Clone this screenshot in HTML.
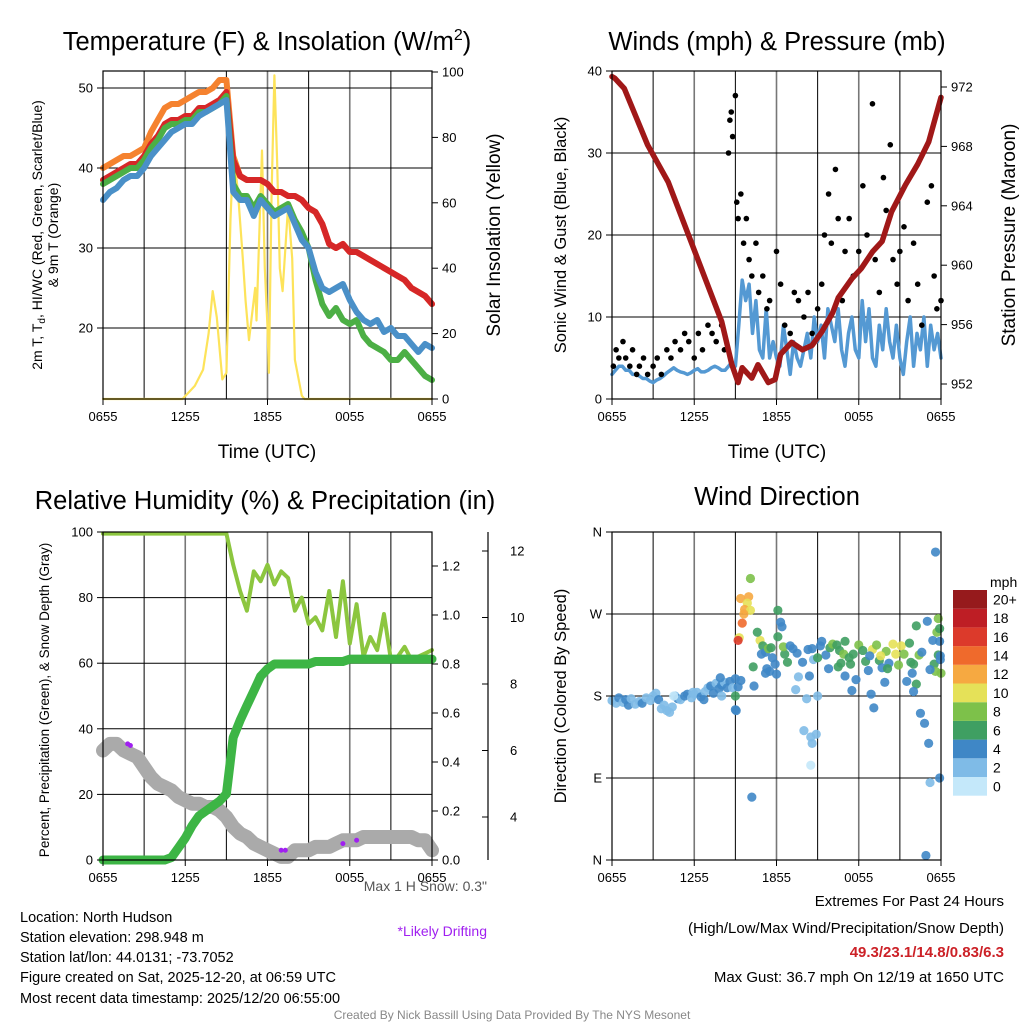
<!DOCTYPE html>
<html><head><meta charset="utf-8"><style>
html,body{margin:0;padding:0;background:#fff}
svg{display:block;font-family:"Liberation Sans",sans-serif}
</style></head><body>
<svg id="chart" width="1024" height="1024" viewBox="0 0 1024 1024" xmlns="http://www.w3.org/2000/svg">
<rect width="1024" height="1024" fill="#fff"/>
<g id="p1"></g>
<g id="p2"></g>
<g id="p3"></g>
<g id="p4"></g>
<g font-size="25.5" text-anchor="middle">
<text x="267" y="50">Temperature (F) &amp; Insolation (W/m<tspan font-size="16" dy="-10">2</tspan><tspan dy="10">)</tspan></text>
<text x="777" y="50">Winds (mph) &amp; Pressure (mb)</text>
<text x="265" y="509">Relative Humidity (%) &amp; Precipitation (in)</text>
<text x="777" y="505">Wind Direction</text>
</g>
<g font-size="19" text-anchor="middle">
<text x="267" y="458">Time (UTC)</text>
<text x="777" y="458">Time (UTC)</text>
<text transform="translate(500,235) rotate(-90)">Solar Insolation (Yellow)</text>
<text transform="translate(1015,235) rotate(-90)">Station Pressure (Maroon)</text>
</g>
<text font-size="14" text-anchor="middle" transform="translate(42,235) rotate(-90)">2m T, T<tspan font-size="10" dy="3">d</tspan><tspan dy="-3">, HI/WC (Red, Green, Scarlet/Blue)</tspan></text>
<text font-size="14" text-anchor="middle" transform="translate(58,235) rotate(-90)">&amp; 9m T (Orange)</text>
<text font-size="16.5" text-anchor="middle" transform="translate(566,235) rotate(-90)">Sonic Wind &amp; Gust (Blue, Black)</text>
<text font-size="13.5" text-anchor="middle" transform="translate(49,700) rotate(-90)">Percent, Precipitation (Green), &amp; Snow Depth (Gray)</text>
<text font-size="16.5" text-anchor="middle" transform="translate(566,696) rotate(-90)">Direction (Colored By Speed)</text>
<text font-size="14" fill="#555" text-anchor="end" x="487" y="891">Max 1 H Snow: 0.3"</text>
<text font-size="14" fill="#a020f0" text-anchor="end" x="487" y="936">*Likely Drifting</text>
<g font-size="14.5">
<text x="20" y="922">Location: North Hudson</text>
<text x="20" y="942">Station elevation: 298.948 m</text>
<text x="20" y="962">Station lat/lon: 44.0131; -73.7052</text>
<text x="20" y="982">Figure created on Sat, 2025-12-20, at 06:59 UTC</text>
<text x="20" y="1003">Most recent data timestamp: 2025/12/20 06:55:00</text>
</g>
<g font-size="15" text-anchor="end">
<text x="1004" y="906">Extremes For Past 24 Hours</text>
<text x="1004" y="933">(High/Low/Max Wind/Precipitation/Snow Depth)</text>
<text x="1004" y="957" fill="#cc2127" font-weight="bold">49.3/23.1/14.8/0.83/6.3</text>
<text x="1004" y="982">Max Gust: 36.7 mph On 12/19 at 1650 UTC</text>
</g>
<text x="512" y="1019" font-size="12" fill="#888" text-anchor="middle">Created By Nick Bassill Using Data Provided By The NYS Mesonet</text>
</svg>
<script>
// ---------- data ----------
const hours = [0,0.5,1,1.5,2,2.5,3,3.5,4,4.5,5,5.5,6,6.5,7,7.5,8,8.5,9,9.5,10,10.5,11,11.5,12,12.5,13,13.5,14,14.5,15,15.5,16,16.5,17,17.5,18,18.5,19,19.5,20,20.5,21,21.5,22,22.5,23,23.5,24];
const timeTicks = ["0655","1255","1855","0055","0655"];
const tempRed = [38.5,39,39.5,40,40.5,40.5,41.5,43,44,45.5,46,46,46.5,46.5,47.5,47.5,48,48.5,49.5,41,39,38.5,38.5,38.5,38,37,37,36.5,36.5,36,35,34.5,33,30.5,30,30.5,29.5,29.5,29,28.5,28,27.5,27,26.5,26,25,24.5,24,23];
const tempOrange = [40,40.5,41,41.5,41.5,42,42.5,44.5,46,47.5,48,48,48.5,49,49.5,49.5,50,51,51,41.5,39,38.5,38.5,38.5,38,37,37,36.5,36.5,36,35,34.5,33,30.5,30,30.5,29.5,29.5,29,28.5,28,27.5,27,26.5,26,25,24.5,24,23];
const tempGreen = [38,38.5,39,39.5,40,40,41,42.5,43.5,45,45.5,45.5,46,46,47,47,47.5,48,49,38,36.5,36.5,35,36.5,35.5,34.5,35,35.5,33.5,32,30,26,23,21.5,22.5,21,20.5,21,19,18,17.5,17,16,16,17,16,15,14,13.5];
const tempBlue = [36,37,37.5,38.5,39,39,40,41.5,42.5,43.5,44.5,45,45.5,45.5,46.5,47,47.5,48,48.5,37,36,36,34,36,35,34,34.5,35,33,31,30,27,25,24.5,25,25.5,23.5,22,21,20.5,21,19.5,20,19,19,18,17,18,17.5];
const solarHours = [0,5.8,6.7,7.3,7.7,8.0,8.3,8.7,9.0,9.3,9.5,9.6,9.85,10.2,10.4,10.65,11.1,11.2,11.6,11.8,12.0,12.1,12.3,12.5,12.7,12.9,13.1,13.5,13.8,14.0,14.5,14.7,24];
const solar = [0,0,4,9,20,33,25,6,8,55,75,73,63,43,30,18,34,24,76,40,22,8,63,99,73,40,33,59,43,12,1,0,0];
// wind sampled every 15 minutes from 0655
const wind = [3,3.5,4,4,3.5,3.5,3,3,2.8,2.5,2.5,2.2,2,2.3,2.5,2.8,3.2,3.5,3.8,3.5,3.3,3.2,3,3.2,3.5,3.7,3.3,3.3,3.5,3.8,4,3.8,3.5,3.5,4,4.5,4,
9,14.5,12,14,8,12,6,5,11,5,7,5,4,9,6,3,7,5,4,6,8,5,10,7,9,5,11,9,7,11,6,4,8,10,6,5,12,7,11,5,4,9,6,11,7,5,9,5,3,7,10,4,8,6,10,4,9,6,8,5];
const gustHours = [0.1,0.3,0.5,0.8,1,1.3,1.5,1.8,2,2.3,2.6,3,3.3,3.6,4,4.3,4.6,5,5.3,5.6,6,6.3,6.6,7,7.3,7.6,8,8.2,8.5,8.6,8.7,8.8,9,9.1,9.2,9.4,9.6,9.8,10,10.2,10.5,10.7,11,11.3,11.5,12,12.3,12.6,13,13.3,13.6,14,14.3,14.6,15,15.3,15.5,15.8,16,16.3,16.5,16.8,17,17.3,17.6,18,18.3,18.6,19,19.2,19.5,19.8,20,20.3,20.5,20.8,21,21.3,21.6,22,22.3,22.6,23,23.3,23.5,23.7,24];
const gust = [4,6,5,7,5,4,6,3,4,5,3,4,5,3,6,5,7,6,8,7,5,8,6,9,8,7,9,6,30,34,35,32,37,24,22,25,19,22,17,15,19,13,15,11,12,18,14,9,8,13,12,10,13,8,11,14,20,25,19,28,22,12,18,22,15,18,26,20,36,17,13,27,23,31,17,14,18,21,12,19,14,9,24,26,15,11,12];
const pressureHours = [0,0.2,0.9,2.6,4.1,5.3,6.8,8.0,8.75,9.2,9.5,10.2,10.65,11.4,11.9,12.3,13.1,13.9,14.6,15.3,16.1,16.5,17.5,18.2,19.0,19.7,20.4,21.4,22.3,23.1,24];
const pressure = [972.7,972.6,971.9,968.1,965.6,962.7,959.1,956.2,953.3,952.1,953.1,952.4,953.3,952.1,952.3,954,954.8,954.3,954.6,955.5,956.8,957.8,959.1,959.8,960.9,961.6,963.6,965.4,966.8,968.3,971.3];
const rh = [99.5,99.5,99.5,99.5,99.5,99.5,99.5,99.5,99.5,99.5,99.5,99.5,99.5,99.5,99.5,99.5,99.5,99.5,99.5,90,82,76,88,85,90,84,88,86,76,80,72,74,70,82,68,85,66,78,62,68,64,75,61,62,65,61,62,63,64];
const precip = [0,0,0,0,0,0,0,0,0,0,0.01,0.05,0.09,0.14,0.18,0.2,0.22,0.24,0.27,0.5,0.57,0.63,0.69,0.75,0.78,0.8,0.8,0.8,0.8,0.8,0.8,0.81,0.81,0.81,0.81,0.81,0.82,0.82,0.82,0.82,0.82,0.82,0.82,0.82,0.82,0.82,0.82,0.82,0.82];
const snow = [6.0,6.2,6.2,6.0,5.9,5.8,5.5,5.2,5.0,4.9,4.8,4.6,4.5,4.4,4.4,4.3,4.3,4.2,4.0,3.7,3.5,3.4,3.2,3.1,3.0,2.9,2.8,2.8,3.0,3.0,3.0,3.1,3.1,3.1,3.2,3.3,3.3,3.3,3.4,3.4,3.4,3.4,3.4,3.4,3.4,3.4,3.3,3.3,3.0];
const driftHours = [1.8,2.0,13,13.3,17.5,18.5];
const driftSnow = [6.2,6.15,3.0,3.0,3.2,3.3];
const dirHours = [0,0.3,0.5,0.8,1,1.2,1.4,1.7,2,2.2,2.5,2.8,3,3.2,3.4,3.6,3.8,4,4.2,4.4,4.6,4.8,5,5.3,5.5,5.8,6,6.2,6.5,6.8,7,7.2,7.4,7.6,7.8,8,8.2,8.4,8.6,8.8,9,9.2,9.4,9,8,9,6.7,4.5,5.9,7.9,
9.38,9.97,9.87,9.67,10.1,9.62,9.5,9.28,9.2,10.1,10.2,9.06,10.36,10.3,
10.8,11,11.2,11.4,11.6,11.3,11.5,11.9,12.1,12.1,12.3,12.4,12.6,12.5,12.8,13,13.2,13.4,13.6,13.5,13.9,14,14.2,14.4,14.5,14.6,14.5,14.6,14.7,14.9,15.2,15.3,15.6,15.8,15,15.9,16.1,16.4,16.6,16.9,17,17,17.3,17.5,17.4,17.8,18,18.3,18.5,18.7,18.9,19,19.1,19.3,19.5,19.7,19.9,20,20.2,20.5,20.7,20.9,21.1,21.3,21.5,21.7,21.9,22,22.2,22.4,22.6,22.2,22.5,22.8,23.1,23.2,23,23.5,23.6,23.8,24,23.4,23.7,23.8,23.9,23.95,23.9,23.95,22.9,23.9,23.6,22,23.2,21.8,19.6,20.1,16.5,16.7,14.3,15,17.6,18.8,12,11.7,10.9,10.6,11.2];
const dirDeg = [175,172,178,173,176,170,177,171,174,172,178,175,180,183,176,166,170,164,162,168,180,177,176,180,182,178,182,184,179,185,189,191,183,194,188,192,195,189,196,189,199,190,197,180,180,165,176,180,184,200,
287,289,282,275,274,270,260,244,241,309,69,164,191,212,
241,235,228,232,233,210,207,215,245,274,261,256,226,234,217,235,232,187,201,227,217,142,177,202,135,128,104,232,220,138,235,240,225,210,180,233,237,236,230,226,202,240,222,186,215,198,236,230,218,208,182,231,167,236,219,211,195,229,216,237,226,214,235,226,196,238,205,215,193,225,228,257,161,150,128,85,262,215,207,225,205,241,250,265,254,224,240,220,5,90,338,185,209,217,224,210,212,216,231,222,226,224,204,222,226,250,205];
const dirSpeed = [2,2,3,2,4,3,2,2,2,3,2,2,2,2,4,2,2,2,2,2,2,3,2,4,4,2,2,2,4,2,2,4,4,2,4,4,2,4,4,2,4,4,4,6,2,3,4,0,2,4,
12,12,10,12,10,12,14,10,16,7,4,3,4,6,
10,6,4,7,6,4,4,4,6,6,4,4,6,7,6,4,4,2,2,4,4,2,2,4,2,2,0,4,2,2,4,4,4,4,2,6,7,6,6,7,4,6,6,4,6,3,8,6,6,4,4,10,4,8,6,4,4,8,4,10,10,8,10,8,4,6,4,6,6,8,4,6,4,4,4,2,4,6,8,6,8,4,8,8,6,4,4,4,4,4,4,4,4,6,10,6,6,6,4,6,6,4,4,4,4,6,4];
const speedLabels = ["0","2","4","6","8","10","12","14","16","18","20+"];
const speedColors = ["#c4e8fa","#7fbbe7","#3f87c6","#3f9f62","#7dc14a","#e5e158","#f6a941","#ef6a2c","#dc3a2b","#be1e25","#961a1c"];
const dirLabels = ["N","E","S","W","N"];
const NS = "http://www.w3.org/2000/svg";
function mk(parent, tag, attrs){ const e=document.createElementNS(NS,tag); for(const k in attrs) e.setAttribute(k,attrs[k]); parent.appendChild(e); return e; }
const W=329, H=328;
function xT(x0,h){ return x0 + h/24*W; }
function poly(g, xs, ys, stroke, sw){ let d=''; for(let i=0;i<xs.length;i++) d+=(i?'L':'M')+xs[i].toFixed(1)+','+ys[i].toFixed(1); return mk(g,'path',{d:d,fill:'none',stroke:stroke,'stroke-width':sw,'stroke-linejoin':'round','stroke-linecap':'round'}); }
function grid(g,x0,y0,hy){
  for(let k=1;k<8;k++){ const x=xT(x0,k*3); const l=mk(g,'line',{x1:x,x2:x,y1:y0,y2:y0+H,stroke:k%2==0?'#777':'#000','stroke-width':k%2==0?1.6:1});   }
  hy.forEach(y=>{ const l=mk(g,'line',{x1:x0,x2:x0+W,y1:y,y2:y,stroke:'#000','stroke-width':1});   });
}
function frame(g,x0,y0){ const r=mk(g,'rect',{x:x0,y:y0,width:W,height:H,fill:'none',stroke:'#000','stroke-width':1.2});   }
function xTicks(g,x0,y0){
  timeTicks.forEach((t,i)=>{ const x=xT(x0,i*6);
    const l=mk(g,'line',{x1:x,x2:x,y1:y0+H,y2:y0+H+6,stroke:'#000'});  
    const tx=mk(g,'text',{x:x,y:y0+H+22,'font-size':13,'text-anchor':'middle'}); tx.textContent=t;   });
}
function yTicks(g,xa,vals,yf,side,fmt){
  vals.forEach(v=>{ const y=yf(v); const dir=side=='left'?-1:1;
    const l=mk(g,'line',{x1:xa,x2:xa+dir*6,y1:y,y2:y,stroke:'#000'});  
    const t=mk(g,'text',{x:xa+dir*10,y:y+4.5,'font-size':13,'text-anchor':side=='left'?'end':'start'}); t.textContent=fmt?fmt(v):v;   });
}
// ---------- panel 1 ----------
(function(){
  const g=document.getElementById('p1'); const x0=103,y0=71;
  const yT=v=>328-(v-20)*8; const yS=v=>399-v*3.27;
  grid(g,x0,y0,[20,30,40,50].map(yT));
  const xs=hours.map(h=>xT(x0,h));
  poly(g,solarHours.map(h=>xT(x0,h)),solar.map(yS),'#fde35a',2.2);
  poly(g,xs,tempOrange.map(yT),'#f5822f',6);
  poly(g,xs,tempRed.map(yT),'#d62728',6);
  poly(g,xs,tempGreen.map(yT),'#4caf45',6);
  poly(g,xs,tempBlue.map(yT),'#4a90c8',6);
  frame(g,x0,y0); xTicks(g,x0,y0);
  yTicks(g,x0,[20,30,40,50],yT,'left'); yTicks(g,x0+W,[0,20,40,60,80,100],yS,'right');
})();
// ---------- panel 2 ----------
(function(){
  const g=document.getElementById('p2'); const x0=612,y0=71;
  const yW=v=>399-v*8.2; const yP=v=>384-(v-952)*14.85;
  grid(g,x0,y0,[10,20,30].map(yW));
  poly(g,wind.map((v,i)=>xT(x0,i*0.25)),wind.map(yW),'#5499d3',3.5);
  gustHours.forEach((h,i)=>{ const c=mk(g,'circle',{cx:xT(x0,h),cy:yW(gust[i]),r:2.8,fill:'#000'});
    
     });
  poly(g,pressureHours.map(h=>xT(x0,h)),pressure.map(yP),'#a01818',5.5);
  frame(g,x0,y0); xTicks(g,x0,y0);
  yTicks(g,x0,[0,10,20,30,40],yW,'left'); yTicks(g,x0+W,[952,956,960,964,968,972],yP,'right');
})();
// ---------- panel 3 ----------
(function(){
  const g=document.getElementById('p3'); const x0=103,y0=532;
  const yR=v=>860-v*3.28; const yI=v=>860-v*245; const yN=v=>817-(v-4)*33.25;
  grid(g,x0,y0,[20,40,60,80].map(yR));
  const xs=hours.map(h=>xT(x0,h));
  poly(g,xs,snow.map(yN),'#aaaaaa',14);
  driftHours.forEach((h,i)=>{ const c=mk(g,'circle',{cx:xT(x0,h),cy:yN(driftSnow[i]),r:2.5,fill:'#a020f0'});
    
     });
  poly(g,xs,rh.map(yR),'#8cc63f',4);
  poly(g,xs,precip.map(yI),'#3db545',9);
  frame(g,x0,y0); xTicks(g,x0,y0);
  yTicks(g,x0,[0,20,40,60,80,100],yR,'left');
  yTicks(g,x0+W,[0,0.2,0.4,0.6,0.8,1.0,1.2],yI,'right',v=>v.toFixed(1));
  const ax=mk(g,'line',{x1:488,x2:488,y1:532,y2:860,stroke:'#000','stroke-width':1.2});  
  [4,6,8,10,12].forEach(v=>{ const y=yN(v); const l=mk(g,'line',{x1:482,x2:488,y1:y,y2:y,stroke:'#000'});  
    const t=mk(g,'text',{x:510,y:y+4.5,'font-size':13,'text-anchor':'start'}); t.textContent=v;   });
})();
// ---------- panel 4 ----------
(function(){
  const g=document.getElementById('p4'); const x0=612,y0=532;
  const yD=v=>860-v/360*H;
  grid(g,x0,y0,[90,180,270].map(yD));
  dirHours.forEach((h,i)=>{ const idx=Math.min(10,Math.round(dirSpeed[i]/2));
    const c=mk(g,'circle',{cx:xT(x0,Math.min(24,h)),cy:yD(dirDeg[i]),r:4.6,fill:speedColors[idx],opacity:0.9});
    
     });
  frame(g,x0,y0); xTicks(g,x0,y0);
  yTicks(g,x0,[0,90,180,270,360],yD,'left',v=>dirLabels[v/90]);
  const bh=18.7, top=590;
  speedColors.forEach((c,i)=>{ const y=top+(10-i)*bh;
    const r=mk(g,'rect',{x:953,y:y,width:34,height:bh,fill:c});  
    const t=mk(g,'text',{x:993,y:y+bh/2+5,'font-size':14}); t.textContent=speedLabels[i];   });
  const t=mk(g,'text',{x:990,y:587,'font-size':14}); t.textContent='mph';  
})();
</script>
</body></html>
